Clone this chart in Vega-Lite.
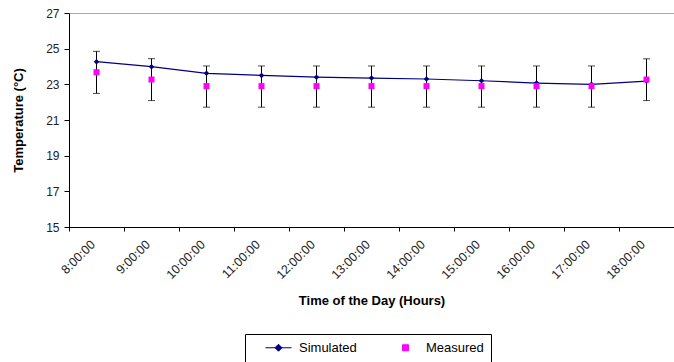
{
  "$schema": "https://vega.github.io/schema/vega-lite/v6.json",
  "width": 605,
  "height": 214,
  "autosize": "none",
  "padding": {"left": 69, "top": 13, "right": 0, "bottom": 135},
  "background": "white",
  "config": {
    "font": "Liberation Sans",
    "view": {"stroke": "#a8a8a8", "strokeWidth": 1},
    "axis": {
      "labelFont": "Liberation Sans",
      "titleFont": "Liberation Sans",
      "labelColor": "#222",
      "titleColor": "black",
      "domainColor": "black",
      "tickColor": "black",
      "grid": false
    }
  },
  "data": {
    "values": [
      {"time": "8:00:00", "sim": 24.27, "meas": 23.68, "lo": 22.49, "hi": 24.85},
      {"time": "9:00:00", "sim": 23.99, "meas": 23.27, "lo": 22.09, "hi": 24.44},
      {"time": "10:00:00", "sim": 23.62, "meas": 22.90, "lo": 21.72, "hi": 24.03},
      {"time": "11:00:00", "sim": 23.50, "meas": 22.90, "lo": 21.72, "hi": 24.03},
      {"time": "12:00:00", "sim": 23.40, "meas": 22.90, "lo": 21.72, "hi": 24.03},
      {"time": "13:00:00", "sim": 23.35, "meas": 22.90, "lo": 21.72, "hi": 24.03},
      {"time": "14:00:00", "sim": 23.30, "meas": 22.90, "lo": 21.72, "hi": 24.03},
      {"time": "15:00:00", "sim": 23.20, "meas": 22.90, "lo": 21.72, "hi": 24.03},
      {"time": "16:00:00", "sim": 23.07, "meas": 22.90, "lo": 21.72, "hi": 24.03},
      {"time": "17:00:00", "sim": 23.00, "meas": 22.90, "lo": 21.72, "hi": 24.03},
      {"time": "18:00:00", "sim": 23.18, "meas": 23.27, "lo": 22.09, "hi": 24.43}
    ]
  },
  "encoding": {
    "x": {
      "field": "time",
      "type": "ordinal",
      "sort": null,
      "scale": {"paddingInner": 0, "paddingOuter": 0},
      "axis": {
        "title": "Time of the Day (Hours)",
        "titleFontSize": 13,
        "titleFontWeight": "bold",
        "titleY": 73,
        "titleBaseline": "middle",
        "labelAngle": -45,
        "labelAlign": "right",
        "labelBaseline": "middle",
        "labelFontSize": 12.5,
        "labelPadding": 11,
        "labelOffset": -4,
        "labelOverlap": false,
        "tickBand": "extent",
        "tickSize": 4
      }
    }
  },
  "layer": [
    {
      "mark": {"type": "rule", "color": "black", "strokeWidth": 1},
      "encoding": {
        "y": {
          "field": "lo",
          "type": "quantitative",
          "scale": {"domain": [15, 27], "nice": false, "zero": false},
          "axis": {
            "title": "Temperature (°C)",
            "titleFontSize": 13,
            "titleFontWeight": "bold",
            "titleX": -51,
            "titleY": 107,
            "titleAlign": "center",
            "titleBaseline": "middle",
            "values": [15, 17, 19, 21, 23, 25, 27],
            "tickCount": 20,
            "format": "d",
            "labelOverlap": false,
            "labelFlush": false,
            "labelFontSize": 12,
            "labelPadding": 5,
            "tickSize": 5
          }
        },
        "y2": {"field": "hi"}
      }
    },
    {
      "mark": {"type": "tick", "color": "black", "size": 7, "thickness": 1, "orient": "horizontal"},
      "encoding": {"y": {"field": "lo", "type": "quantitative"}}
    },
    {
      "mark": {"type": "tick", "color": "black", "size": 7, "thickness": 1, "orient": "horizontal"},
      "encoding": {"y": {"field": "hi", "type": "quantitative"}}
    },
    {
      "mark": {"type": "line", "strokeWidth": 1.2, "point": {"shape": "diamond", "filled": true, "size": 30}},
      "encoding": {
        "y": {"field": "sim", "type": "quantitative"},
        "color": {
          "datum": "Simulated",
          "type": "nominal",
          "scale": {"domain": ["Simulated", "Measured"], "range": ["#000080", "#FF00FF"]},
          "legend": {
            "title": null,
            "orient": "none",
            "legendX": 176,
            "legendY": 321,
            "direction": "horizontal",
            "strokeColor": "black",
            "fillColor": "white",
            "padding": 7,
            "symbolSize": 64,
            "labelFontSize": 13,
            "labelFont": "Liberation Sans",
            "labelColor": "black",
            "labelOffset": 34,
            "columnPadding": 22,
            "encode": {
              "symbols": {
                "update": {
                  "shape": {"signal": "datum.value === 'Simulated' ? 'M1.75,0H8.25M5,-0.875L5.875,0L5,0.875L4.125,0Z' : 'M4.25,-0.75H5.75V0.75H4.25Z'"},
                  "fill": {"signal": "datum.value === 'Simulated' ? '#000080' : '#FF00FF'"},
                  "stroke": {"signal": "datum.value === 'Simulated' ? '#000080' : '#FF00FF'"},
                  "strokeWidth": {"value": 1},
                  "opacity": {"value": 1}
                }
              }
            }
          }
        }
      }
    },
    {
      "mark": {"type": "square", "size": 36, "opacity": 1, "filled": true},
      "encoding": {
        "y": {"field": "meas", "type": "quantitative"},
        "color": {"datum": "Measured", "type": "nominal"}
      }
    }
  ]
}
